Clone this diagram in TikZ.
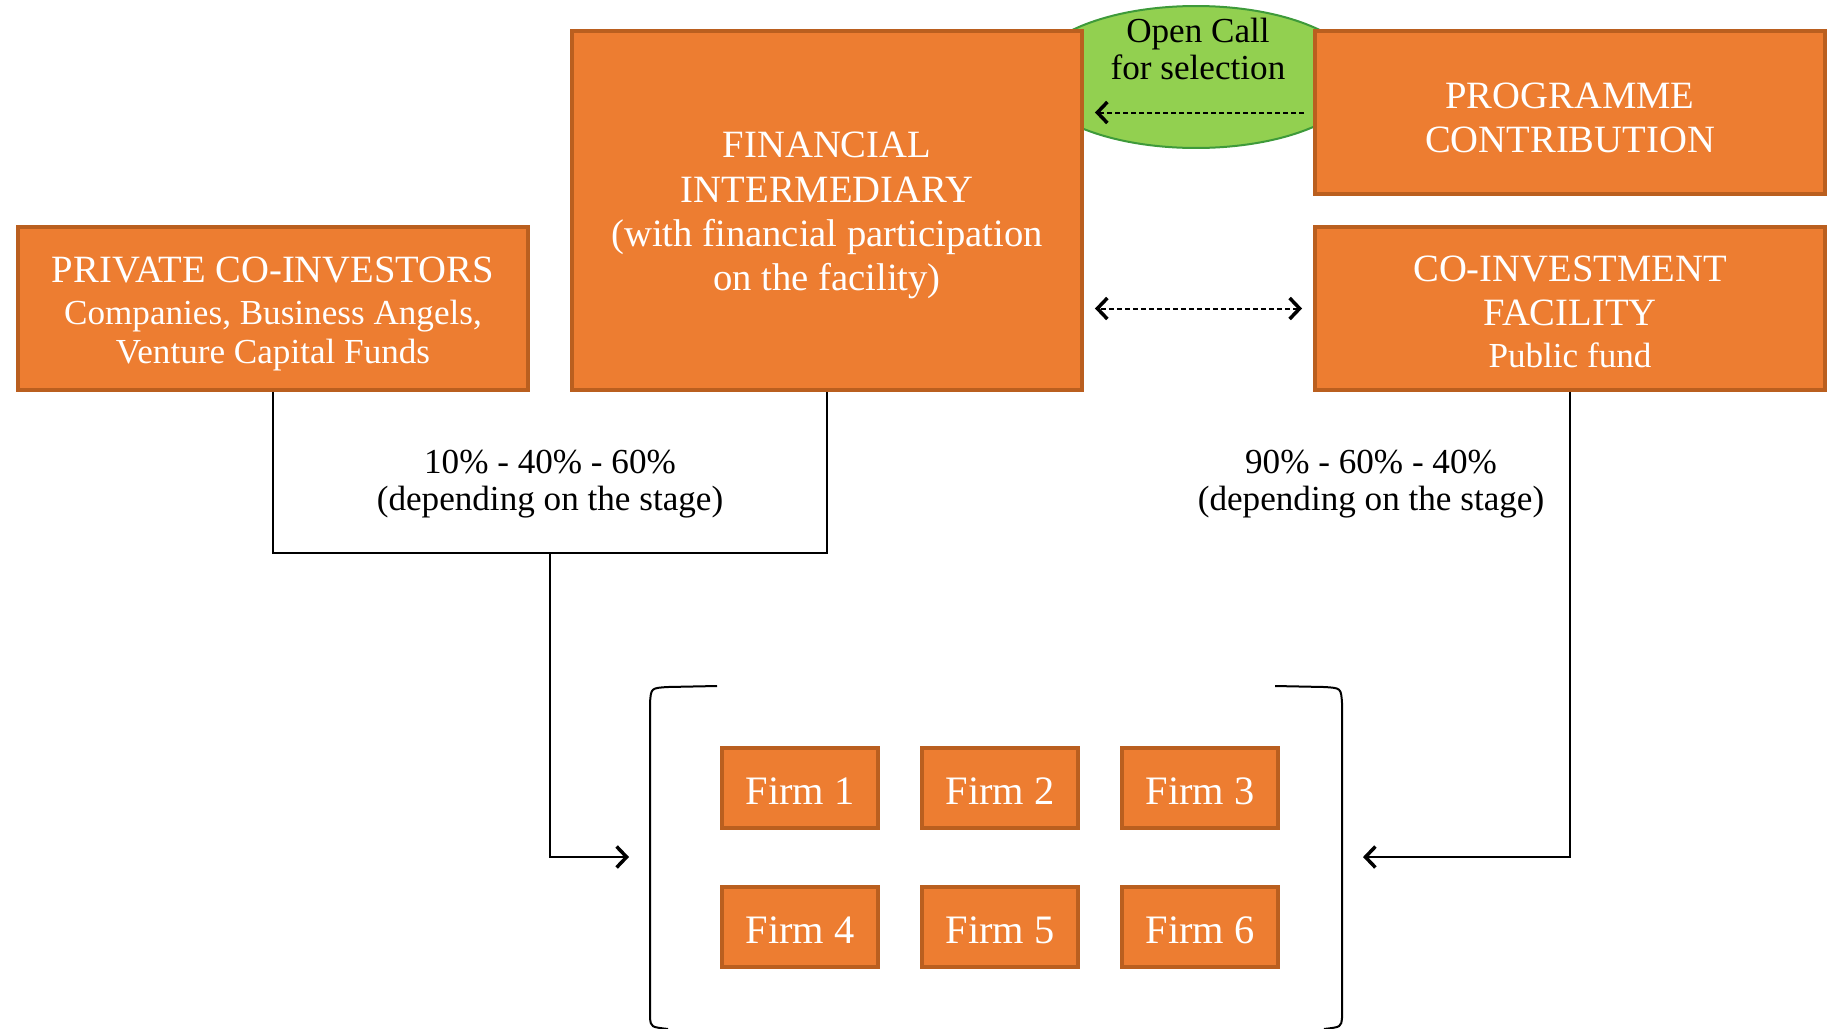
\documentclass[tikz,border=0pt]{standalone}
\usepackage{fontspec}
\setmainfont{Liberation Serif}
\usepackage{xcolor}
\usepackage{tikz}
\usetikzlibrary{shapes.geometric,arrows.meta}

\definecolor{boxorange}{HTML}{ED7D31}
\definecolor{boxedge}{HTML}{BA5F1F}
\definecolor{callgreen}{HTML}{92D050}
\definecolor{calledge}{HTML}{3E9A3A}

\newcommand{\bigtxt}{\fontsize{22}{25.2}\selectfont}
\newcommand{\smalltxt}{\fontsize{20}{21.5}\selectfont}
\newcommand{\topgap}{\rule{0pt}{0.93em}}

\begin{document}
\begin{tikzpicture}[x=0.02cm, y=-0.02cm,
    >={Straight Barb[length=0.2cm, width=0.42cm, line width=0.07cm]},
    orangebox/.style={draw=boxedge, fill=boxorange, line width=0.08cm, text=white,
        align=center, minimum width=10.2cm, minimum height=3.26cm, inner sep=0pt, font=\bigtxt},
    firmbox/.style={orangebox, minimum width=3.12cm, minimum height=1.6cm,
        font=\fontsize{23}{26}\selectfont, execute at begin node={\rule{0pt}{0.82em}}},
    link/.style={line width=0.04cm},
    dasharrow/.style={link, dash pattern=on 0.1cm off 0.06cm},
    share/.style={align=center, font=\smalltxt}]
    \useasboundingbox (0, 0) rectangle (1834, 1028);
    \clip (0, 0) rectangle (1834, 1028);

    % open call behind the boxes
    \node[ellipse, draw=calledge, fill=callgreen, line width=0.04cm, minimum width=6.6cm,
        minimum height=2.84cm, inner sep=0pt] (call) at (1196, 77) {};
    \node[share] (calltext) at (1198, 49) {Open Call\\for selection};

    \node[orangebox] (priv) at (273, 308.5) {\topgap PRIVATE CO-INVESTORS\\[-1.3pt]
        \smalltxt Companies, Business Angels,\\[-3.2pt]\smalltxt Venture Capital Funds};
    \node[orangebox, minimum height=7.18cm] (fi) at (827, 210.5)
        {\topgap FINANCIAL\\INTERMEDIARY\\(with financial participation\\on the facility)};
    \node[orangebox] (pc) at (1570, 112.5) {\topgap PROGRAMME\\CONTRIBUTION};
    \node[orangebox] (cif) at (1570, 308.5)
        {\rule{0pt}{0.85em}CO-INVESTMENT\\FACILITY\\[-1.3pt]\smalltxt Public fund};

    \draw[dasharrow, ->] (pc.west) -- (pc.west -| fi.east) [shorten <=0.18cm, shorten >=0.22cm];
    \draw[dasharrow, <->] (cif.west) -- (cif.west -| fi.east) [shorten <=0.22cm, shorten >=0.22cm];

    % firms
    \node[firmbox] (f1) at (800, 788) {Firm 1};
    \node[firmbox] (f2) at (1000, 788) {Firm 2};
    \node[firmbox] (f3) at (1200, 788) {Firm 3};
    \node[firmbox] (f4) at (800, 927) {Firm 4};
    \node[firmbox] (f5) at (1000, 927) {Firm 5};
    \node[firmbox] (f6) at (1200, 927) {Firm 6};

    % bracket round the firms
    \draw[link] (717, 686) -- (668, 687) .. controls (651, 688) .. (650, 703) -- (650, 1018)
        .. controls (651, 1027) .. (668, 1029);
    \draw[link] (1275, 686) -- (1324, 687) .. controls (1341, 688) .. (1342, 703) -- (1342, 1018)
        .. controls (1341, 1027) .. (1324, 1029);

    % flows
    \coordinate (join) at (550, 553);
    \coordinate (inL) at (629, 857);
    \coordinate (inR) at (1363, 857);
    \draw[link] (priv.south) |- (join) -| (fi.south);
    \draw[link, ->] (join) |- (inL);
    \draw[link, ->] (cif.south) |- (inR);

    \node[share] (shareL) at (550, 484) {10\% - 40\% - 60\%\\(depending on the stage)};
    \node[share] (shareR) at (1371, 484) {90\% - 60\% - 40\%\\(depending on the stage)};
\end{tikzpicture}
\end{document}
